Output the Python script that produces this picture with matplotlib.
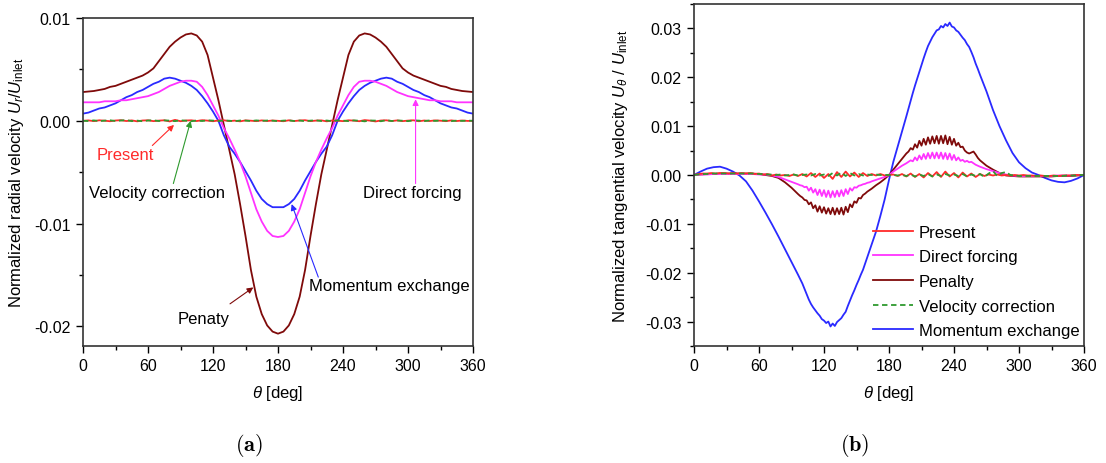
import numpy as np
import matplotlib
matplotlib.use("Agg")
import matplotlib.pyplot as plt
from matplotlib.ticker import MultipleLocator, FormatStrFormatter
from matplotlib.lines import Line2D

plt.rcParams['font.family'] = ['Liberation Sans', 'DejaVu Sans']
plt.rcParams['mathtext.fontset'] = 'custom'
plt.rcParams['mathtext.rm'] = 'Liberation Sans'
plt.rcParams['mathtext.it'] = 'Liberation Sans:italic'
plt.rcParams['mathtext.bf'] = 'Liberation Sans:bold'
plt.rcParams['axes.unicode_minus'] = False

# ---------------- (a) radial velocity ----------------
theta_a = np.arange(0, 361, 5)

penalty_a = [0.0028, 0.00285, 0.0029, 0.0030, 0.0031, 0.0033, 0.0034, 0.0036, 0.0038, 0.0040,
             0.0042, 0.0044, 0.0047, 0.0051, 0.0058, 0.0065, 0.0072, 0.0077, 0.0081, 0.0084,
             0.0085, 0.0083, 0.0077, 0.0064, 0.0042, 0.0020, -0.0004, -0.0028, -0.0052, -0.0081,
             -0.0112, -0.0145, -0.0171, -0.0188, -0.0199, -0.0205, -0.0207,
             -0.0205, -0.0199, -0.0188, -0.0171, -0.0145, -0.0112, -0.0081, -0.0052, -0.0028, -0.0004,
             0.0020, 0.0042, 0.0064, 0.0077, 0.0083, 0.0085, 0.0084, 0.0081, 0.0077, 0.0072,
             0.0065, 0.0058, 0.0051, 0.0047, 0.0044, 0.0042, 0.0040, 0.0038, 0.0036, 0.0034,
             0.0033, 0.0031, 0.0030, 0.0029, 0.00285, 0.0028]

direct_a = [0.0018, 0.0018, 0.0018, 0.0018, 0.0019, 0.0019, 0.0019, 0.0020, 0.0020, 0.0021,
            0.0022, 0.0023, 0.0024, 0.0026, 0.0028, 0.0031, 0.0034, 0.0036, 0.0038, 0.0039,
            0.0039, 0.0038, 0.0033, 0.0025, 0.0015, 0.0005, -0.0007, -0.0017, -0.0028, -0.0040,
            -0.0054, -0.0070, -0.0086, -0.0098, -0.0107, -0.0112, -0.0113,
            -0.0112, -0.0107, -0.0098, -0.0086, -0.0070, -0.0054, -0.0040, -0.0028, -0.0017, -0.0007,
            0.0005, 0.0015, 0.0025, 0.0033, 0.0038, 0.0039, 0.0039, 0.0038, 0.0036, 0.0034,
            0.0031, 0.0028, 0.0026, 0.0024, 0.0023, 0.0022, 0.0021, 0.0020, 0.0020, 0.0019,
            0.0019, 0.0019, 0.0018, 0.0018, 0.0018, 0.0018]

momentum_a = [0.0007, 0.0008, 0.0010, 0.0012, 0.0013, 0.0015, 0.0017, 0.0020, 0.0023, 0.0025,
              0.0028, 0.0030, 0.0033, 0.0036, 0.0038, 0.0041, 0.0042, 0.0041, 0.0039, 0.0037,
              0.0034, 0.0030, 0.0024, 0.0017, 0.0009, 0.0000, -0.0014, -0.0025, -0.0032, -0.0040,
              -0.0049, -0.0058, -0.0068, -0.0076, -0.0081, -0.0084, -0.0084,
              -0.0084, -0.0081, -0.0076, -0.0068, -0.0058, -0.0049, -0.0040, -0.0032, -0.0025, -0.0014,
              0.0000, 0.0009, 0.0017, 0.0024, 0.0030, 0.0034, 0.0037, 0.0039, 0.0041, 0.0042,
              0.0041, 0.0038, 0.0036, 0.0033, 0.0030, 0.0028, 0.0025, 0.0023, 0.0020, 0.0017,
              0.0015, 0.0013, 0.0012, 0.0010, 0.0008, 0.0007]

present_a = [0.0, 0.00004, -0.00003, 0.00005, 0.00001, -0.00004, 0.00003, 0.00006, -0.00002, 0.00004,
             -0.00005, 0.00003, 0.00005, -0.00003, 0.00002, 0.00005, -0.00006, 0.00009, -0.00004, 0.00003,
             0.00005, -0.00002, 0.00006, 0.00002, -0.00004, 0.00003, 0.00005, -0.00003, 0.00002, -0.00005,
             0.00004, 0.00001, -0.00003, 0.00004, -0.00002, 0.00003, 0.0, -0.00004, 0.00005, -0.00002,
             0.00003, 0.00006, -0.00003, 0.00002, 0.00004, -0.00005, 0.00003, 0.00001, -0.00003, 0.00005,
             0.00002, -0.00004, 0.00007, 0.00002, -0.00006, 0.00003, 0.00005, -0.00002, 0.00004, -0.00003,
             0.00002, 0.00005, -0.00004, 0.00003, -0.00002, 0.00004, 0.00001, -0.00003, 0.00004, -0.00002,
             0.00003, -0.00001, 0.0]

velcorr_a = [0.0, -0.00002, 0.00004, -0.00003, 0.00002, 0.00005, -0.00002, 0.00003, 0.00007, -0.00003,
             0.00002, -0.00004, 0.00003, 0.00005, -0.00002, 0.00004, 0.00002, -0.00003, 0.00005, 0.00001,
             -0.00004, 0.00003, -0.00002, 0.00005, 0.00002, -0.00003, 0.00004, 0.00001, -0.00004, 0.00003,
             0.00002, -0.00002, 0.00004, -0.00001, 0.00003, 0.00001, -0.00003, 0.00002, 0.00004, -0.00002,
             0.00003, -0.00004, 0.00002, 0.00005, -0.00002, 0.00003, -0.00004, 0.00004, 0.00002, -0.00003,
             0.00004, 0.00001, -0.00005, 0.00003, 0.00002, -0.00004, 0.00006, -0.00002, 0.00003, 0.00001,
             -0.00003, 0.00004, 0.00002, -0.00003, 0.00004, -0.00001, 0.00003, 0.00002, -0.00003, 0.00002,
             -0.00001, 0.00002, 0.0]

# ---------------- (b) tangential velocity ----------------
theta_b = np.concatenate([np.arange(0, 97, 6), np.arange(98, 165, 2), np.arange(168, 197, 4),
                          np.arange(198, 265, 2), np.arange(270, 361, 6)])

momentum_b = [0.0000, 0.0007, 0.0013, 0.0016, 0.0017, 0.0013, 0.0007, -0.0001, -0.0013, -0.0032,
              -0.0054, -0.0077, -0.0101, -0.0126, -0.0152, -0.0178, -0.0204,
              -0.0213, -0.0222, -0.0233, -0.0244, -0.0255, -0.0264, -0.0271, -0.0277, -0.0283, -0.0288,
              -0.0295, -0.0298, -0.0303, -0.0300, -0.0310, -0.0304, -0.0309, -0.0301, -0.0297, -0.0293,
              -0.0286, -0.0280, -0.0268, -0.0257, -0.0246, -0.0236, -0.0225, -0.0215, -0.0204, -0.0194,
              -0.0181, -0.0168, -0.0155, -0.0142,
              -0.0116, -0.0084, -0.0050, -0.0010, 0.0027, 0.0058, 0.0089, 0.0120,
              0.0136, 0.0152, 0.0168, 0.0183, 0.0197, 0.0211, 0.0225, 0.0239, 0.0252, 0.0264,
              0.0273, 0.0282, 0.0289, 0.0296, 0.0298, 0.0305, 0.0302, 0.0309, 0.0305, 0.0312,
              0.0304, 0.0302, 0.0296, 0.0293, 0.0287, 0.0281, 0.0276, 0.0268, 0.0262, 0.0252,
              0.0241, 0.0228, 0.0217, 0.0205,
              0.0171, 0.0133, 0.0100, 0.0071, 0.0045, 0.0026, 0.0014, 0.0005, 0.0000, -0.0006,
              -0.0011, -0.0014, -0.0015, -0.0012, -0.0007, 0.0]

penalty_b = [0.0, 0.0001, 0.0002, 0.0002, 0.0003, 0.0003, 0.0003, 0.0003, 0.0003, 0.0003,
             0.0002, 0.0000, -0.0002, -0.0006, -0.0015, -0.0026, -0.0039,
             -0.0043, -0.0046, -0.0051, -0.0052, -0.0060, -0.0056, -0.0068, -0.0062, -0.0075, -0.0064,
             -0.0077, -0.0066, -0.0079, -0.0068, -0.0080, -0.0067, -0.0081, -0.0068, -0.0080, -0.0067,
             -0.0081, -0.0065, -0.0076, -0.0060, -0.0066, -0.0054, -0.0057, -0.0047, -0.0048, -0.0041,
             -0.0038, -0.0034, -0.0031, -0.0028,
             -0.0021, -0.0015, -0.0008, 0.0, 0.0011, 0.0022, 0.0033, 0.0044,
             0.0048, 0.0055, 0.0052, 0.0063, 0.0056, 0.0070, 0.0060, 0.0074, 0.0062, 0.0077,
             0.0064, 0.0079, 0.0065, 0.0080, 0.0064, 0.0080, 0.0065, 0.0081, 0.0063, 0.0078,
             0.0062, 0.0074, 0.0060, 0.0066, 0.0057, 0.0058, 0.0050, 0.0046, 0.0044, 0.0046,
             0.0048, 0.0042, 0.0035, 0.0030,
             0.0019, 0.0011, 0.0004, -0.0001, -0.0002, -0.0003, -0.0003, -0.0003, -0.0003, -0.0003,
             -0.0003, -0.0002, -0.0002, -0.0002, -0.0001, 0.0]

direct_b = [0.0, 0.0001, 0.0001, 0.0002, 0.0002, 0.0002, 0.0002, 0.0002, 0.0002, 0.0002,
            0.0001, 0.0001, -0.0001, -0.0004, -0.0009, -0.0014, -0.0019,
            -0.0021, -0.0022, -0.0025, -0.0024, -0.0032, -0.0026, -0.0036, -0.0029, -0.0041, -0.0030,
            -0.0043, -0.0031, -0.0045, -0.0032, -0.0046, -0.0033, -0.0045, -0.0032, -0.0044, -0.0031,
            -0.0043, -0.0029, -0.0039, -0.0027, -0.0032, -0.0025, -0.0026, -0.0022, -0.0021, -0.0019,
            -0.0018, -0.0016, -0.0015, -0.0013,
            -0.0010, -0.0007, -0.0004, 0.0, 0.0007, 0.0013, 0.0019, 0.0024,
            0.0027, 0.0030, 0.0028, 0.0036, 0.0030, 0.0040, 0.0032, 0.0043, 0.0033, 0.0045,
            0.0034, 0.0046, 0.0034, 0.0046, 0.0034, 0.0046, 0.0033, 0.0045, 0.0032, 0.0044,
            0.0031, 0.0041, 0.0030, 0.0036, 0.0029, 0.0031, 0.0027, 0.0029, 0.0026, 0.0027,
            0.0024, 0.0021, 0.0019, 0.0017,
            0.0012, 0.0008, 0.0004, 0.0001, -0.0001, -0.0002, -0.0002, -0.0002, -0.0002, -0.0002,
            -0.0002, -0.0001, -0.0001, -0.0001, 0.0, 0.0]

theta_c = np.arange(0, 361, 4)

present_b = [0.0, 0.0002, 0.0003, 0.0003, 0.0004, 0.0003, 0.0004, 0.0004, 0.0003, 0.0004,
             0.0003, 0.0004, 0.0003, 0.0004, 0.0002, 0.0003, 0.0001, 0.0002, -0.0001, 0.0001,
             -0.0001, 0.0, -0.0002, 0.0001, -0.0002, 0.0002, -0.0003, 0.0004, -0.0004, 0.0003,
             -0.0006, 0.0002, -0.0008, 0.0006, -0.0004, 0.0007, -0.0003, 0.0005, -0.0004, 0.0004,
             -0.0002, 0.0002, -0.0001, 0.0002, -0.0001, 0.0, 0.0001, -0.0002, 0.0002, -0.0003,
             0.0003, -0.0004, 0.0002, -0.0005, 0.0004, -0.0003, 0.0006, -0.0004, 0.0007, -0.0003,
             0.0004, -0.0005, 0.0005, -0.0003, 0.0003, -0.0004, 0.0002, -0.0002, 0.0001, -0.0001,
             0.0001, -0.0001, 0.0, -0.0001, 0.0, -0.0001, 0.0, -0.0001, -0.0001, -0.0002,
             -0.0001, -0.0002, -0.0002, -0.0001, -0.0002, -0.0001, -0.0001, -0.0001, 0.0, 0.0,
             0.0]

velcorr_b = [0.0, 0.0001, 0.0002, 0.0002, 0.0003, 0.0003, 0.0003, 0.0003, 0.0003, 0.0003,
             0.0003, 0.0003, 0.0003, 0.0003, 0.0003, 0.0002, 0.0002, 0.0001, 0.0001, 0.0,
             0.0001, -0.0001, 0.0, 0.0001, -0.0001, 0.0, 0.0001, -0.0001, 0.0002, -0.0001,
             0.0001, -0.0002, 0.0004, -0.0001, 0.0005, -0.0002, 0.0004, -0.0001, 0.0002, -0.0001,
             0.0001, 0.0, 0.0001, 0.0, 0.0, 0.0, 0.0, -0.0001, 0.0, -0.0002,
             0.0001, -0.0003, 0.0001, -0.0002, 0.0002, -0.0003, 0.0001, -0.0002, 0.0002, -0.0001,
             0.0001, -0.0002, 0.0002, -0.0003, 0.0001, -0.0002, 0.0002, -0.0004, 0.0003, 0.0008,
             -0.0002, 0.0004, 0.0006, 0.0, -0.0001, -0.0002, -0.0002, -0.0002, -0.0002, -0.0002,
             -0.0002, -0.0002, -0.0002, -0.0002, -0.0002, -0.0002, -0.0001, -0.0001, -0.0001, 0.0,
             0.0]

x_ticks = [0, 60, 120, 180, 240, 300, 360]

C_RED = '#ff2a2a'
C_MAG = '#ff33ff'
C_DRED = '#7f0a0a'
C_GRN = '#2e9a2e'
C_BLU = '#2a2aff'
LW = 1.3

fig = plt.figure(figsize=(11.06, 4.64), dpi=100)
axa = fig.add_axes([83 / 1106, 1 - 347 / 464, 390 / 1106, 328 / 464])
axb = fig.add_axes([694 / 1106, 1 - 347 / 464, 390 / 1106, 342 / 464])

for ax in (axa, axb):
    ax.set_xlim(0, 360)
    ax.set_xticks(x_ticks)
    ax.xaxis.set_minor_locator(MultipleLocator(30))
    ax.yaxis.set_minor_locator(MultipleLocator(0.005))
    ax.yaxis.set_major_formatter(FormatStrFormatter('%.2f'))
    ax.tick_params(which='major', direction='out', length=5, width=1, labelsize=11.5, pad=4,
                   top=False, right=False)
    ax.tick_params(which='minor', direction='out', length=3, width=1, top=False, right=False)
    for sp in ax.spines.values():
        sp.set_linewidth(1.2)
        sp.set_color('#333333')
    ax.set_xlabel(r'$\it{\theta}$ [deg]', fontsize=12)

# panel (a)
axa.set_ylim(-0.0219, 0.01)
axa.set_yticks([0.01, 0.0, -0.01, -0.02])
axa.plot(theta_a, penalty_a, color=C_DRED, lw=LW)
axa.plot(theta_a, momentum_a, color=C_BLU, lw=LW)
axa.plot(theta_a, direct_a, color=C_MAG, lw=LW)
axa.plot(theta_a, present_a, color=C_RED, lw=LW)
axa.plot(theta_a, velcorr_a, color=C_GRN, lw=LW, ls=(0, (3, 2)))
axa.set_ylabel(r'Normalized radial velocity $U_r/U_{\rm inlet}$', fontsize=12)
axa.yaxis.set_label_coords(-0.146, 0.5)
axa.xaxis.set_label_coords(0.5, -0.112)

arr = dict(arrowstyle='-|>', lw=0.8, mutation_scale=9, shrinkA=0, shrinkB=0)
axa.text(39, -0.0033, 'Present', color=C_RED, fontsize=12, ha='center', va='center')
axa.annotate('', xy=(84, -0.0004), xytext=(64, -0.0024), arrowprops=dict(arr, color=C_RED))
axa.text(68.6, -0.0070, 'Velocity correction', color='black', fontsize=12, ha='center', va='center')
axa.annotate('', xy=(99.4, 0.0), xytext=(83.4, -0.0061), arrowprops=dict(arr, color=C_GRN))
axa.text(304, -0.0070, 'Direct forcing', color='black', fontsize=12, ha='center', va='center')
axa.annotate('', xy=(307, 0.0021), xytext=(307, -0.0061), arrowprops=dict(arr, color=C_MAG))
axa.text(282.8, -0.0160, 'Momentum exchange', color='black', fontsize=12, ha='center', va='center')
axa.annotate('', xy=(192.6, -0.0081), xytext=(217.2, -0.0152), arrowprops=dict(arr, color=C_BLU))
axa.text(111, -0.0192, 'Penaty', color='black', fontsize=12, ha='center', va='center')
axa.annotate('', xy=(157.2, -0.0162), xytext=(135.7, -0.0178), arrowprops=dict(arr, color=C_DRED))

# panel (b)
axb.set_ylim(-0.035, 0.035)
axb.set_yticks([0.03, 0.02, 0.01, 0.0, -0.01, -0.02, -0.03])
axb.plot(theta_b, momentum_b, color=C_BLU, lw=LW)
axb.plot(theta_b, penalty_b, color=C_DRED, lw=LW)
axb.plot(theta_b, direct_b, color=C_MAG, lw=LW)
axb.plot(theta_c, present_b, color=C_RED, lw=LW)
axb.plot(theta_c, velcorr_b, color=C_GRN, lw=LW, ls=(0, (3, 2)))
axb.set_ylabel(r'Normalized tangential velocity $U_\theta$ / $U_{\rm inlet}$', fontsize=12)
axb.yaxis.set_label_coords(-0.163, 0.5)
axb.xaxis.set_label_coords(0.5, -0.108)

handles = [Line2D([], [], color=C_RED, lw=LW),
           Line2D([], [], color=C_MAG, lw=LW),
           Line2D([], [], color=C_DRED, lw=LW),
           Line2D([], [], color=C_GRN, lw=LW, ls=(0, (3, 2))),
           Line2D([], [], color=C_BLU, lw=LW)]
labels = ['Present', 'Direct forcing', 'Penalty', 'Velocity correction', 'Momentum exchange']
axb.legend(handles, labels, loc='upper left', bbox_to_anchor=(0.459, 0.355), frameon=False,
           fontsize=12, handlelength=2.4, handletextpad=0.36, labelspacing=0.58,
           borderpad=0, borderaxespad=0)

fig.text(249 / 1106, 1 - 446 / 464, r'$\mathbf{(a)}$', math_fontfamily='cm', fontsize=16,
         ha='center', va='center')
fig.text(855 / 1106, 1 - 446 / 464, r'$\mathbf{(b)}$', math_fontfamily='cm', fontsize=16,
         ha='center', va='center')

fig.savefig('out.png', dpi=100)
